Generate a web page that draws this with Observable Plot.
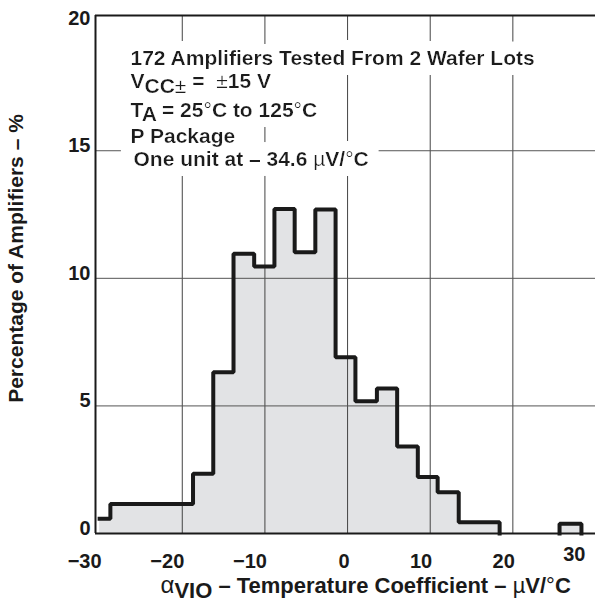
<!DOCTYPE html>
<html><head><meta charset="utf-8">
<script src="https://cdn.jsdelivr.net/npm/d3@7"></script>
<script src="https://cdn.jsdelivr.net/npm/@observablehq/plot@0.6"></script>
<style>body{margin:0;background:#fff} svg{display:block}</style>
</head><body><div id="chart"></div>
<script>
// histogram bins: left edges (µV/°C) and percentage of amplifiers
const binEdges = [-30, -28.7, -18.7, -16.25, -13.8, -11.3, -8.85, -6.4, -3.9, -1.45, 0.95, 3.55, 6.0, 8.5, 10.9, 13.45, 18.4];
const binPct   = [0.58, 1.16, 2.34, 6.32, 10.96, 10.46, 12.72, 11.02, 12.70, 6.91, 5.18, 5.68, 3.41, 2.21, 1.62, 0.44, 0];
// isolated bin on the right
const outlierEdges = [25.65, 25.65, 28.3];
const outlierPct   = [0, 0.38, 0];

const xTicks = [-30, -20, -10, 0, 10, 20];
const xTickLast = [30];
const yTicks = [0, 5, 10, 15, 20];
const xGrid = [-20, -10, 0, 10, 20];
const yGrid = [5, 10, 15];
const xDomain = [-30.5, 30];
const yDomain = [0, 20.3];

const notes = [
  "172 Amplifiers Tested From 2 Wafer Lots",
  "VCC± =  ±15 V",
  "TA = 25°C to 125°C",
  "P Package",
  "One unit at – 34.6 µV/°C"
];
const xTitle = "αVIO – Temperature Coefficient – µV/°C";
const yTitle = "Percentage of Amplifiers – %";

const rich = {
  "VCC± =  ±15 V": 'V<tspan dy="5">CC</tspan><tspan font-weight="normal">±</tspan><tspan dy="-5"> = \u00a0</tspan><tspan font-weight="normal">±</tspan>15 V',
  "TA = 25°C to 125°C": 'T<tspan dy="4">A</tspan><tspan dy="-4"> = 25</tspan><tspan font-weight="normal">°</tspan>C to 125<tspan font-weight="normal">°</tspan>C',
  "One unit at – 34.6 µV/°C": 'One unit at – 34.6 <tspan font-weight="normal">µ</tspan>V/<tspan font-weight="normal">°</tspan>C',
  "αVIO – Temperature Coefficient – µV/°C": '<tspan font-weight="normal" font-size="24">α</tspan><tspan dy="5">VIO</tspan><tspan dy="-5">\u00a0\u2013 Temperature Coefficient \u2013\u00a0</tspan><tspan font-weight="normal">µ</tspan>V/<tspan font-weight="normal">°</tspan>C'
};

const rows = binEdges.map((x, i) => ({x, y: binPct[i], g: "main"}))
  .concat(outlierEdges.map((x, i) => ({x, y: outlierPct[i], g: "out"})));

const FONT = "'Liberation Sans', Arial, Helvetica, sans-serif";
const INK = "#1a1a1a";
const noteDx = [35, 35, 35, 35, 38];
const noteDy = [49, 72, 101.5, 127, 150];

const chart = Plot.plot({
  width: 595, height: 601,
  marginLeft: 95, marginRight: 0, marginTop: 15, marginBottom: 68,
  style: {fontFamily: FONT, background: "#fff", color: INK},
  x: {domain: xDomain},
  y: {domain: yDomain},
  marks: [
    Plot.areaY(rows, {x: "x", y: "y", z: "g", curve: "step-after", fill: "#e2e3e5"}),
    Plot.gridX(xGrid, {stroke: "#444", strokeOpacity: 1, strokeWidth: 1}),
    Plot.gridY(yGrid, {stroke: "#555", strokeOpacity: 1, strokeWidth: 1}),
    ...notes.map((t, i) => Plot.text([t], {
      frameAnchor: "top-left", textAnchor: "start", lineAnchor: "bottom",
      dx: noteDx[i], dy: noteDy[i], fontSize: 21, fontWeight: "bold", fill: INK
    })),
    Plot.line(rows, {x: "x", y: "y", z: "g", curve: "step-after", stroke: INK, strokeWidth: 4, strokeLinejoin: "miter", strokeLinecap: "square"}),
    Plot.ruleX([xDomain[0]], {stroke: INK, strokeWidth: 2}),
    Plot.ruleY([yDomain[0]], {stroke: INK, strokeWidth: 2}),
    Plot.ruleY([yDomain[1]], {stroke: INK, strokeWidth: 2}),
    Plot.axisY(yTicks, {tickSize: 0, tickPadding: 5, fontSize: 20, fontWeight: "bold", dy: -5, label: null, fill: INK}),
    Plot.axisX(xTicks, {tickSize: 0, tickPadding: 20, textAnchor: "end", dx: 2, fontSize: 20, fontWeight: "bold", label: null, fill: INK}),
    Plot.axisX(xTickLast, {tickSize: 0, tickPadding: 20, textAnchor: "end", dx: -10, dy: -7, fontSize: 20, fontWeight: "bold", label: null, fill: INK}),
    Plot.text([xTitle], {frameAnchor: "bottom-left", textAnchor: "start", lineAnchor: "bottom", dx: 65, dy: 59, fontSize: 22, fontWeight: "bold", fill: INK}),
    Plot.text([yTitle], {frameAnchor: "left", rotate: -90, textAnchor: "middle", lineAnchor: "middle", dx: -79, dy: -16, fontSize: 21, fontWeight: "bold", fill: INK})
  ]
});

// white knock-out behind the annotation block (breaks the grid like the original)
const ns = "http://www.w3.org/2000/svg";
const defs = document.createElementNS(ns, "defs");
defs.innerHTML = '<filter id="halo" x="-15%" y="-20%" width="130%" height="140%">' +
  '<feMorphology in="SourceAlpha" operator="dilate" radius="11 10" result="d"/>' +
  '<feFlood flood-color="#fff"/><feComposite in2="d" operator="in" result="w"/>' +
  '<feMerge><feMergeNode in="w"/><feMergeNode in="SourceGraphic"/></feMerge></filter>';
chart.insertBefore(defs, chart.firstChild);

const noteGroups = [];
chart.querySelectorAll("text").forEach(el => {
  const k = el.textContent;
  if (notes.includes(k)) {
    let g = el;
    while (g.parentNode && g.parentNode !== chart) g = g.parentNode;
    if (!noteGroups.includes(g)) noteGroups.push(g);
  }
  if (rich[k]) el.innerHTML = rich[k];
});
if (noteGroups.length) {
  const wrap = document.createElementNS(ns, "g");
  wrap.setAttribute("filter", "url(#halo)");
  chart.insertBefore(wrap, noteGroups[0]);
  noteGroups.forEach(g => wrap.appendChild(g));
}
document.getElementById("chart").appendChild(chart);
</script>
</body></html>
